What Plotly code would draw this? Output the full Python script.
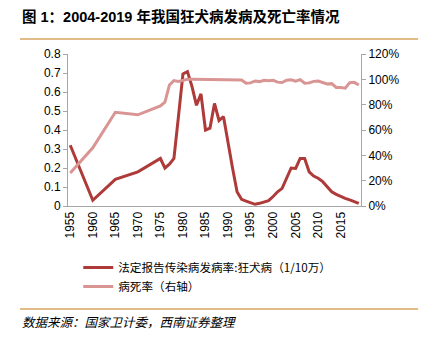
import plotly.graph_objects as go

years = list(range(1955, 2020))
incidence = {
    1955: 0.32, 1960: 0.03, 1965: 0.14, 1970: 0.18, 1975: 0.25, 1976: 0.20,
    1977: 0.22, 1978: 0.25, 1979: 0.47, 1980: 0.695, 1981: 0.707, 1982: 0.63,
    1983: 0.53, 1984: 0.59, 1985: 0.40, 1986: 0.41, 1987: 0.54, 1988: 0.45,
    1989: 0.47, 1990: 0.33, 1991: 0.20, 1992: 0.075, 1993: 0.035, 1994: 0.026,
    1995: 0.017, 1996: 0.009, 1997: 0.014, 1998: 0.019, 1999: 0.028, 2000: 0.05,
    2001: 0.075, 2002: 0.093, 2003: 0.146, 2004: 0.20, 2005: 0.198, 2006: 0.25,
    2007: 0.25, 2008: 0.18, 2009: 0.158, 2010: 0.146, 2011: 0.128, 2012: 0.10,
    2013: 0.075, 2014: 0.061, 2015: 0.049, 2016: 0.04, 2017: 0.032, 2018: 0.023,
    2019: 0.014,
}
death_rate = {
    1955: 26, 1960: 46, 1965: 74, 1970: 72, 1975: 79, 1976: 82, 1977: 95.5,
    1978: 99, 1979: 98.4, 1980: 99.5, 1981: 100, 1982: 100, 1983: 100, 1984: 100,
    1985: 100, 1986: 100, 1987: 100, 1988: 100, 1989: 100, 1990: 100, 1991: 99.8,
    1992: 99.8, 1993: 99.5, 1994: 97, 1995: 97.2, 1996: 98.7, 1997: 98.2,
    1998: 99.3, 1999: 98.8, 2000: 99.2, 2001: 97.8, 2002: 97.5, 2003: 99.3,
    2004: 99.6, 2005: 98.5, 2006: 99.8, 2007: 97.0, 2008: 97.2, 2009: 98.4,
    2010: 98.7, 2011: 97.6, 2012: 96.3, 2013: 96.6, 2014: 93.6, 2015: 93.5,
    2016: 93.0, 2017: 97.4, 2018: 97.6, 2019: 95.5,
}
tick_years = list(range(1955, 2016, 5))
left_ticks = [0, 0.1, 0.2, 0.3, 0.4, 0.5, 0.6, 0.7, 0.8]
right_ticks = [0, 20, 40, 60, 80, 100, 120]

inc_vals = [incidence.get(y) for y in years]
dr_vals = [death_rate.get(y) for y in years]

DARK = "#AE3A3A"
PINK = "#D99594"
AXIS = "#A6A6A6"
RULE = "#D9A660"
FONT = "Liberation Sans, Arial, Noto Sans CJK SC, sans-serif"

fig = go.Figure()
fig.add_trace(go.Scatter(
    x=years, y=inc_vals, mode="lines", connectgaps=True,
    name="法定报告传染病发病率:狂犬病（1/10万）",
    line=dict(color=DARK, width=3), yaxis="y"))
fig.add_trace(go.Scatter(
    x=years, y=dr_vals, mode="lines", connectgaps=True,
    name="病死率（右轴）",
    line=dict(color=PINK, width=3), yaxis="y2"))

fig.update_layout(
    width=423, height=339,
    margin=dict(l=68, r=62, t=54, b=133),
    paper_bgcolor="white", plot_bgcolor="white",
    font=dict(family=FONT, size=12, color="#000000"),
    showlegend=True,
    legend=dict(x=0.035, y=-0.31, xanchor="left", yanchor="top",
                font=dict(size=11.6, family="Noto Sans CJK SC, sans-serif"),
                itemwidth=30, tracegroupgap=0, bgcolor="rgba(0,0,0,0)"),
    xaxis=dict(range=[1954.5, 2019.5], tickmode="array", tickvals=tick_years,
               ticktext=[str(t) for t in tick_years], tickangle=-90,
               showgrid=False, zeroline=False, showline=True, linecolor=AXIS,
               linewidth=1, ticks="", tickfont=dict(size=12)),
    yaxis=dict(range=[0, 0.8], tickmode="array", tickvals=left_ticks,
               ticktext=[f"{v:g}" for v in left_ticks],
               showgrid=False, zeroline=False, showline=True, linecolor=AXIS,
               linewidth=1, ticks="outside", ticklen=4, tickcolor=AXIS,
               tickfont=dict(size=12)),
    yaxis2=dict(range=[0, 120], overlaying="y", side="right", tickmode="array",
                tickvals=right_ticks, ticktext=[f"{v}%" for v in right_ticks],
                showgrid=False, zeroline=False, showline=True, linecolor=AXIS,
                linewidth=1, ticks="outside", ticklen=4, tickcolor=AXIS,
                tickfont=dict(size=12)),
)

fig.add_annotation(
    text="<b>图 1：2004-2019 年我国狂犬病发病及死亡率情况</b>",
    xref="paper", yref="paper", x=-0.164, y=1.25, xanchor="left", yanchor="middle",
    showarrow=False, font=dict(size=14.5, family="Liberation Sans, Noto Sans CJK SC, sans-serif", color="#000"))
fig.add_annotation(
    text="数据来源：国家卫计委，西南证券整理",
    xref="paper", yref="paper", x=-0.164, y=-0.763, xanchor="left", yanchor="middle",
    showarrow=False, font=dict(size=12.5, family="Noto Sans CJK SC, serif", color="#000", style="italic"))
fig.add_shape(type="line", xref="paper", yref="paper", x0=-0.164, x1=1.195,
              y0=1.099, y1=1.099, line=dict(color=RULE, width=1.5))
fig.add_shape(type="line", xref="paper", yref="paper", x0=-0.164, x1=1.195,
              y0=-0.678, y1=-0.678, line=dict(color=RULE, width=1.5))

fig.write_html("out.html")
